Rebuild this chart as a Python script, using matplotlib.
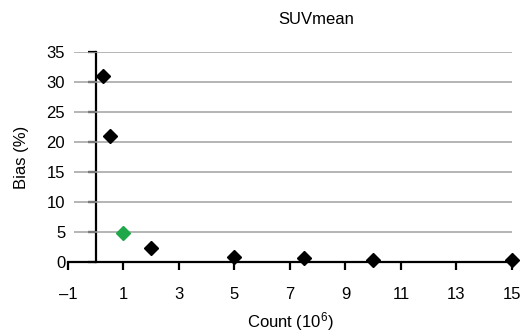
import matplotlib
matplotlib.use("Agg")
import matplotlib.pyplot as plt

plt.rcParams['font.family'] = ['Liberation Sans', 'DejaVu Sans']
plt.rcParams['mathtext.fontset'] = 'custom'
plt.rcParams['mathtext.rm'] = 'Liberation Sans'
plt.rcParams['mathtext.it'] = 'Liberation Sans'

# data
count = [0.25, 0.5, 1, 2, 5, 7.5, 10, 15]
bias = [31, 21, 4.8, 2.3, 0.9, 0.6, 0.4, 0.4]
colors = ['black', 'black', '#1fa84a', 'black', 'black', 'black', 'black', 'black']
xticks = [-1, 1, 3, 5, 7, 9, 11, 13, 15]
yticks = [0, 5, 10, 15, 20, 25, 30, 35]

fig = plt.figure(figsize=(5.25, 3.34), dpi=100)
ax = fig.add_axes([0.1295, 0.2156, 0.8457, 0.6287])

ax.set_xlim(-1, 15)
ax.set_ylim(0, 35)

# gridlines
ax.hlines(yticks[1:], -0.78, 15, color='#a0a0a0', lw=1.1, zorder=1)

for x, y, c in zip(count, bias, colors):
    ax.plot(x, y, marker='D', ms=7.5, color=c, ls='none', zorder=4, clip_on=False)

for s in ['top', 'right', 'left']:
    ax.spines[s].set_visible(False)
ax.spines['bottom'].set_linewidth(1.6)
ax.spines['bottom'].set_zorder(3)

ax.set_xticks(xticks)
ax.set_xticklabels(['\u2013' + str(abs(t)) if t < 0 else str(t) for t in xticks])
ax.tick_params(axis='x', direction='out', length=6, width=1.6, pad=12, labelsize=12)
ax.set_yticks(yticks)
ax.tick_params(axis='y', length=0, pad=2, labelsize=12)

# y axis drawn at x = 0
yax = ax.secondary_yaxis(1 / 16)
yax.set_yticks(yticks)
yax.set_yticklabels([])
yax.spines['left'].set_linewidth(1.6)
yax.tick_params(direction='out', length=6, width=1.6)

ax.set_title('SUVmean', fontsize=12, pad=20, x=0.56)
ax.set_xlabel('Count (10$^{6}$)', fontsize=12, labelpad=6)
ax.set_ylabel('Bias (%)', fontsize=12, labelpad=13)

fig.savefig('out.png', dpi=100)
